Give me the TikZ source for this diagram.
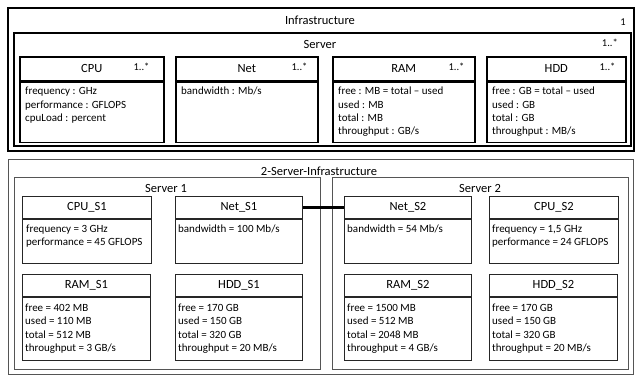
\documentclass[tikz,border=0pt]{standalone}
\usepackage{fontspec}
\setmainfont{Carlito}
\usetikzlibrary{positioning}
\definecolor{framegray}{HTML}{555555}

\begin{document}
\begin{tikzpicture}[x=1pt, y=-1pt, every node/.style={inner sep=0pt},
  frametitle/.style={font=\fontsize{12.5}{15}\selectfont},
  frame/.style={draw, line width=1.8pt, anchor=north west},
  objframe/.style={draw=framegray, line width=1.3pt, anchor=north west},
  cls/.style={draw, line width=1.6pt, anchor=north west, minimum height=24pt, font=\fontsize{12.5}{15}\selectfont},
  clsbody/.style={draw, line width=1.6pt, anchor=north west, minimum height=60pt},
  obj/.style={draw=black!85, line width=0.9pt, anchor=north west, minimum height=22pt, font=\fontsize{12.5}{15}\selectfont},
  objbody/.style={draw=black!85, line width=0.9pt, anchor=north west},
  attr/.style={anchor=north west, align=left, font=\fontsize{11}{13.3}\selectfont},
  mult/.style={anchor=east, font=\fontsize{10.5}{12}\selectfont},
  link/.style={line width=2.6pt}]
\useasboundingbox (0,0) rectangle (636,377);

% class diagram
\node[frame, minimum width=626pt, minimum height=143pt] (infra) at (7,7) {};
\node[frametitle] (infra-t) at (320,20) {Infrastructure};
\node[mult] (infra-m) at (626,22) {1};
\node[frame, minimum width=617pt, minimum height=113pt] (server) at (13,32) {};
\node[frametitle] (server-t) at (320,44) {Server};
\node[mult] (server-m) at (618,43) {1..*};

\node[cls, minimum width=144pt] (cpu) at (19,56) {CPU};
\node[clsbody, minimum width=144pt] (cpu-b) at (cpu.south west) {};
\node[mult] (cpu-m) at ([xshift=-15pt, yshift=1.5pt]cpu.east) {1..*};
\node[attr] (cpu-a) at ([shift={(6pt,-5.5pt)}]cpu-b.north west) {frequency : GHz\\performance : GFLOPS\\cpuLoad : percent};

\node[cls, minimum width=142pt] (net) at (175,56) {Net};
\node[clsbody, minimum width=142pt] (net-b) at (net.south west) {};
\node[mult] (net-m) at ([xshift=-11pt, yshift=1.5pt]net.east) {1..*};
\node[attr] (net-a) at ([shift={(6pt,-5.5pt)}]net-b.north west) {bandwidth : Mb/s};

\node[cls, minimum width=142pt] (ram) at (332,56) {RAM};
\node[clsbody, minimum width=142pt] (ram-b) at (ram.south west) {};
\node[mult] (ram-m) at ([xshift=-11pt, yshift=1.5pt]ram.east) {1..*};
\node[attr] (ram-a) at ([shift={(6pt,-5.5pt)}]ram-b.north west) {free : MB = total – used\\used : MB\\total : MB\\throughput : GB/s};

\node[cls, minimum width=139pt] (hdd) at (486,56) {HDD};
\node[clsbody, minimum width=139pt] (hdd-b) at (hdd.south west) {};
\node[mult] (hdd-m) at ([xshift=-11pt, yshift=1.5pt]hdd.east) {1..*};
\node[attr] (hdd-a) at ([shift={(6pt,-5.5pt)}]hdd-b.north west) {free : GB = total – used\\used : GB\\total : GB\\throughput : MB/s};

% object diagram
\node[objframe, minimum width=625pt, minimum height=215pt] (twosrv) at (8,159) {};
\node[frametitle] (twosrv-t) at (319,171) {2-Server-Infrastructure};
\node[objframe, minimum width=306pt, minimum height=192pt] (srv1) at (14,177) {};
\node[frametitle] (srv1-t) at (166,188) {Server 1};
\node[objframe, minimum width=296pt, minimum height=192pt] (srv2) at (332,177) {};
\node[frametitle] (srv2-t) at (480,188) {Server 2};

\node[obj, minimum width=129pt] (cpu1) at (22,196) {CPU\_S1};
\node[objbody, minimum width=129pt, minimum height=44pt] (cpu1-b) at (cpu1.south west) {};
\node[attr] (cpu1-a) at ([shift={(4pt,-6pt)}]cpu1-b.north west) {frequency = 3 GHz\\performance = 45 GFLOPS};

\node[obj, minimum width=127pt] (net1) at (175,196) {Net\_S1};
\node[objbody, minimum width=127pt, minimum height=44pt] (net1-b) at (net1.south west) {};
\node[attr] (net1-a) at ([shift={(3pt,-6pt)}]net1-b.north west) {bandwidth = 100 Mb/s};

\node[obj, minimum width=127pt] (net2) at (344,196) {Net\_S2};
\node[objbody, minimum width=127pt, minimum height=44pt] (net2-b) at (net2.south west) {};
\node[attr] (net2-a) at ([shift={(3pt,-6pt)}]net2-b.north west) {bandwidth = 54 Mb/s};

\node[obj, minimum width=129pt] (cpu2) at (489,196) {CPU\_S2};
\node[objbody, minimum width=129pt, minimum height=44pt] (cpu2-b) at (cpu2.south west) {};
\node[attr] (cpu2-a) at ([shift={(3pt,-6pt)}]cpu2-b.north west) {frequency = 1,5 GHz\\performance = 24 GFLOPS};

\node[obj, minimum width=128pt] (ram1) at (22,274) {RAM\_S1};
\node[objbody, minimum width=128pt, minimum height=63pt] (ram1-b) at (ram1.south west) {};
\node[attr] (ram1-a) at ([shift={(3pt,-7pt)}]ram1-b.north west) {free = 402 MB\\used = 110 MB\\total = 512 MB\\throughput = 3 GB/s};

\node[obj, minimum width=127pt] (hdd1) at (175,274) {HDD\_S1};
\node[objbody, minimum width=127pt, minimum height=63pt] (hdd1-b) at (hdd1.south west) {};
\node[attr] (hdd1-a) at ([shift={(3pt,-7pt)}]hdd1-b.north west) {free = 170 GB\\used = 150 GB\\total = 320 GB\\throughput = 20 MB/s};

\node[obj, minimum width=127pt] (ram2) at (344,274) {RAM\_S2};
\node[objbody, minimum width=127pt, minimum height=63pt] (ram2-b) at (ram2.south west) {};
\node[attr] (ram2-a) at ([shift={(3pt,-7pt)}]ram2-b.north west) {free = 1500 MB\\used = 512 MB\\total = 2048 MB\\throughput = 4 GB/s};

\node[obj, minimum width=128pt] (hdd2) at (489,274) {HDD\_S2};
\node[objbody, minimum width=128pt, minimum height=63pt] (hdd2-b) at (hdd2.south west) {};
\node[attr] (hdd2-a) at ([shift={(3pt,-7pt)}]hdd2-b.north west) {free = 170 GB\\used = 150 GB\\total = 320 GB\\throughput = 20 MB/s};

\draw[link] (net1) -- (net2);
\end{tikzpicture}
\end{document}
